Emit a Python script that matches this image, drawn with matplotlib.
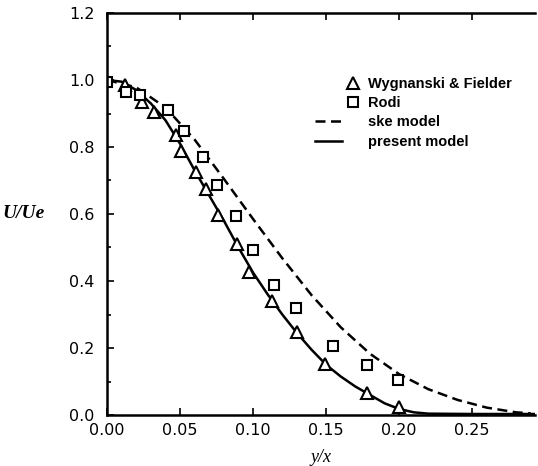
import numpy as np
import matplotlib
matplotlib.use("Agg")
import matplotlib.pyplot as plt
from matplotlib.ticker import MultipleLocator, FormatStrFormatter
from matplotlib.legend_handler import HandlerLine2D

# Wygnanski & Fielder data (triangles)
wf_x = [0.012, 0.024, 0.032, 0.047, 0.051, 0.061, 0.068, 0.076, 0.089,
        0.0975, 0.113, 0.130, 0.149, 0.178, 0.2]
wf_y = [0.985, 0.935, 0.905, 0.835, 0.789, 0.724, 0.674, 0.597, 0.509,
        0.426, 0.339, 0.249, 0.153, 0.067, 0.025]

# Rodi data (squares)
rodi_x = [0.0, 0.013, 0.0226, 0.042, 0.053, 0.0655, 0.0756, 0.088, 0.0998,
          0.114, 0.1295, 0.1546, 0.178, 0.1995]
rodi_y = [0.995, 0.965, 0.955, 0.910, 0.847, 0.771, 0.687, 0.594, 0.494,
          0.387, 0.319, 0.206, 0.150, 0.105]

# ske model (dashed)
ske_x = [0.0, 0.02, 0.04, 0.06, 0.08, 0.10, 0.12, 0.14, 0.16, 0.18, 0.20,
         0.22, 0.24, 0.26, 0.28, 0.29]
ske_y = [1.0, 0.978, 0.918, 0.822, 0.705, 0.585, 0.468, 0.358, 0.262, 0.183,
         0.122, 0.077, 0.045, 0.022, 0.008, 0.005]

# present model (solid)
pm_x = [0.0, 0.01, 0.02, 0.03, 0.04, 0.05, 0.06, 0.07, 0.08, 0.09, 0.10,
        0.11, 0.12, 0.13, 0.14, 0.15, 0.16, 0.17, 0.18, 0.19, 0.20, 0.21,
        0.22, 0.25, 0.293]
pm_y = [1.0, 0.995, 0.97, 0.93, 0.88, 0.81, 0.73, 0.655, 0.58, 0.50, 0.425,
        0.36, 0.30, 0.245, 0.195, 0.15, 0.115, 0.085, 0.06, 0.035, 0.018,
        0.008, 0.004, 0.003, 0.003]


class RightMarker(HandlerLine2D):
    # marker drawn to the right of the handle area, like the original figure
    def get_xdata(self, legend, xdescent, ydescent, width, height, fontsize):
        xm = -xdescent + 1.4 * width
        return [xm, xm], [xm]


plt.rcParams['font.family'] = ['DejaVu Sans']

fig = plt.figure(figsize=(5.38, 4.66), dpi=100)
ax = fig.add_axes([107/538, 1-415/466, 428/538, 402/466])

l_ske, = ax.plot(ske_x, ske_y, color='k', lw=1.8, ls=(0, (4, 2.2)),
                 label='ske model')
l_pm, = ax.plot(pm_x, pm_y, color='k', lw=1.8, label='present model')
l_wf, = ax.plot(wf_x, wf_y, ls='none', marker='^', ms=9, mfc='white',
                mec='k', mew=1.5, label='Wygnanski & Fielder')
l_ro, = ax.plot(rodi_x, rodi_y, ls='none', marker='s', ms=7.5, mfc='white',
                mec='k', mew=1.5, label='Rodi')

ax.set_xlim(0, 0.293)
ax.set_ylim(0, 1.2)
ax.xaxis.set_major_locator(MultipleLocator(0.05))
ax.yaxis.set_major_locator(MultipleLocator(0.2))
ax.yaxis.set_minor_locator(MultipleLocator(0.1))
ax.xaxis.set_major_formatter(FormatStrFormatter('%.2f'))
ax.yaxis.set_major_formatter(FormatStrFormatter('%.1f'))
ax.tick_params(which='both', direction='in', top=True, right=False,
               labelsize=11.5, width=1.2)
ax.tick_params(which='major', length=5)
ax.tick_params(which='minor', length=3)
ax.tick_params(axis='x', pad=6)
ax.tick_params(axis='y', pad=9)
ax.spines['right'].set_visible(False)
for s in ['left', 'bottom', 'top']:
    ax.spines[s].set_linewidth(1.8)

ax.set_xlabel('y/x', family='Liberation Serif', style='italic', fontsize=13,
              labelpad=8)
ax.set_ylabel('U/Ue', family='Liberation Serif', style='italic',
              weight='bold', fontsize=14, rotation=0, va='center', ha='center')
ax.yaxis.set_label_coords(-0.194, 0.5)

rm = RightMarker(numpoints=1)
leg = fig.legend([l_wf, l_ro, l_ske, l_pm],
                 ['Wygnanski & Fielder', 'Rodi', 'ske model', 'present model'],
                 loc='upper left', bbox_to_anchor=(315/538, 1-77/466),
                 frameon=False,
                 prop={'family': 'Liberation Sans', 'weight': 'bold',
                       'size': 10.5},
                 handlelength=1.85, handletextpad=1.8, labelspacing=0.36,
                 borderpad=0, borderaxespad=0,
                 handler_map={l_wf: rm, l_ro: rm})

fig.savefig('out.png', dpi=100)
